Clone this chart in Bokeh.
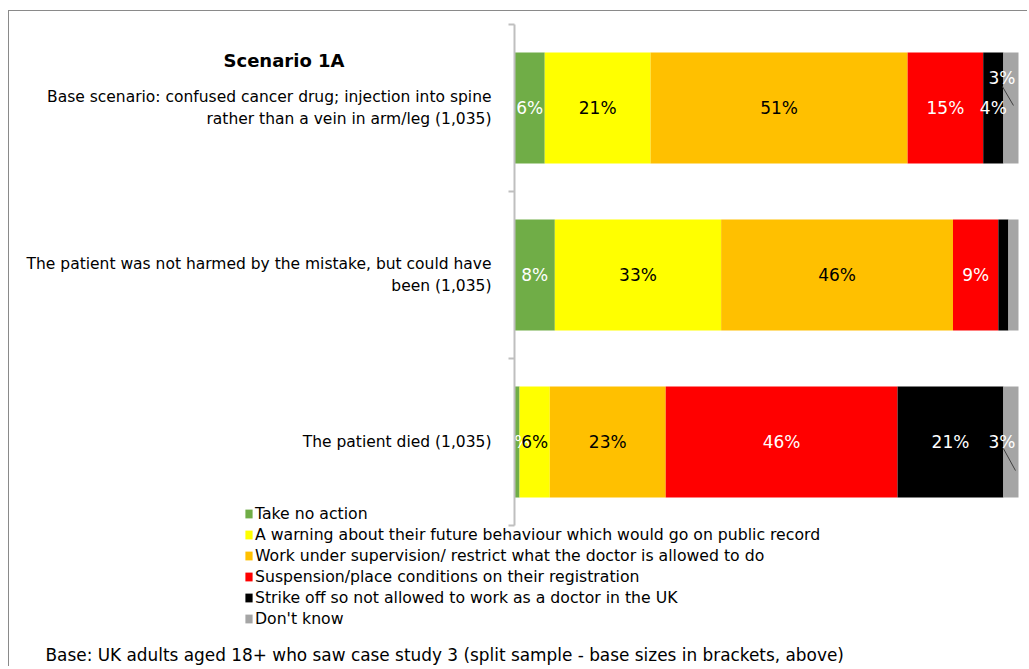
from bokeh.plotting import figure
from bokeh.models import ColumnDataSource, FixedTicker, Label, Range1d, Legend, LinearAxis
from bokeh.core.properties import value
from bokeh.embed import file_html
from bokeh.resources import INLINE

# ---------------- data ----------------
rows = [
    "Base scenario: confused cancer drug; injection into spine\nrather than a vein in arm/leg (1,035)",
    "The patient was not harmed by the mistake, but could have\nbeen (1,035)",
    "The patient died (1,035)",
]
series_names = [
    "Take no action",
    "A warning about their future behaviour which would go on public record",
    "Work under supervision/ restrict what the doctor is allowed to do",
    "Suspension/place conditions on their registration",
    "Strike off so not allowed to work as a doctor in the UK",
    "Don't know",
]
take_no_action = [6, 8, 1]
warning = [21, 33, 6]
supervision = [51, 46, 23]
suspension = [15, 9, 46]
strike_off = [4, 2, 21]
dont_know = [3, 2, 3]

title_text = "Scenario 1A"
base_note = "Base: UK adults aged 18+ who saw case study 3 (split sample - base sizes in brackets, above)"

# ---------------- styling ----------------
colors = ["#70AD47", "#FFFF00", "#FFC000", "#FF0000", "#000000", "#A5A5A5"]
label_colors = ["white", "black", "black", "white", "white", "white"]
FONT = "DejaVu Sans"
hidden_labels = {(1, 4), (1, 5)}          # (row, series) labels not shown
label_shift = {(0, 5): (-9, -30), (2, 5): (-9, 0)}  # screen px offsets

series_values = [take_no_action, warning, supervision, suspension, strike_off, dont_know]
keys = ["s%d" % i for i in range(len(series_values))]
n = len(rows)
ys = [n - 0.5 - i for i in range(n)]

data = {"y": ys}
for k, vals in zip(keys, series_values):
    data[k] = vals
src = ColumnDataSource(data)

# canvas geometry (px): bars span 505..1009 of a 1019 px wide canvas,
# rows span 13..514 of a 656 px tall canvas
W, H = 1019, 656
px_per_x = 504 / 100.0
px_per_y = 501 / float(n)
x_range = Range1d(-505 / px_per_x, 100 + (W - 1009) / px_per_x)
y_range = Range1d(-(H - 514) / px_per_y, n + 13 / px_per_y)

p = figure(width=W, height=H, output_backend="svg", toolbar_location=None,
           x_range=x_range, y_range=y_range, x_axis_location=None, y_axis_location=None,
           min_border=0)
p.styles = {"border-top": "1px solid #8a8a8a", "border-left": "1px solid #8a8a8a",
            "margin-top": "10px", "margin-left": "8px"}
p.outline_line_color = None
p.xgrid.visible = False
p.ygrid.visible = False
p.background_fill_color = "white"
p.border_fill_color = "white"

bar_h = 0.665
renderers = p.hbar_stack(keys, y="y", height=bar_h, color=colors, source=src, line_color=None)

# legend
items = [(name, [r]) for name, r in zip(series_names, renderers)]
legend = Legend(items=items, location=(235, 38), orientation="vertical",
                glyph_width=9, glyph_height=11, label_standoff=2, label_height=21, spacing=0,
                padding=0, margin=0, border_line_color=None, background_fill_alpha=0,
                label_text_font=FONT, label_text_font_size="15.7px", label_text_color="black")
p.add_layout(legend, "center")

# y axis at x = 0 with boundary ticks
yax = LinearAxis(fixed_location=0, bounds=(0, n))
yax.ticker = FixedTicker(ticks=ys, minor_ticks=[float(i) for i in range(n + 1)])
yax.major_label_overrides = {y: lab for y, lab in zip(ys, rows)}
yax.major_tick_line_color = None
yax.major_tick_out = 0
yax.major_tick_in = 0
yax.minor_tick_out = 6
yax.minor_tick_in = 0
yax.minor_tick_line_color = "#bfbfbf"
yax.minor_tick_line_width = 2
yax.axis_line_color = "#bfbfbf"
yax.axis_line_width = 2
yax.major_label_standoff = 17
yax.major_label_text_font = FONT
yax.major_label_text_font_size = "15.5px"
yax.major_label_text_color = "black"
p.add_layout(yax, "left")

# data labels
lx, ly, lt, lc, xo, yo = [], [], [], [], [], []
for ri in range(n):
    left = 0
    for si, vals in enumerate(series_values):
        v = vals[ri]
        if (ri, si) not in hidden_labels:
            dx, dy = label_shift.get((ri, si), (0, 0))
            lx.append(left + v / 2)
            ly.append(ys[ri])
            lt.append("%d%%" % v)
            lc.append(label_colors[si])
            xo.append(dx)
            yo.append(dy)
        left += v
lsrc = ColumnDataSource(dict(x=lx, y=ly, text=lt, color=lc, xo=xo, yo=yo))
p.text(x="x", y="y", text="text", text_color="color", x_offset="xo", y_offset="yo",
       text_align="center", text_baseline="middle", text_font=value(FONT),
       text_font_size="17px", source=lsrc)

# leader lines for the small "Don't know" labels
sx0, sy0, sx1, sy1 = [], [], [], []
leader = {0: (-1.7, 0.129, 0.5, 0.015), 2: (-1.5, -0.039, 0.9, -0.171)}
for ri, (a, b, c, d) in leader.items():
    gc = 100 - dont_know[ri] / 2
    sx0.append(gc + a); sy0.append(ys[ri] + b)
    sx1.append(gc + c); sy1.append(ys[ri] + d)
p.segment(x0=sx0, y0=sy0, x1=sx1, y1=sy1, line_color="#404040", line_width=1)

# title and base note
p.add_layout(Label(x=274.5, y=ys[0] + 0.284, x_units="screen", y_units="data", text=title_text,
                   text_font=FONT, text_font_size="18px", text_font_style="bold",
                   text_align="center", text_baseline="middle", text_color="black"))
p.add_layout(Label(x=36, y=13, x_units="screen", y_units="screen", text=base_note,
                   text_font=FONT, text_font_size="16.9px", text_align="left",
                   text_baseline="middle", text_color="black"))

open("out.html", "w").write(file_html(p, INLINE))
